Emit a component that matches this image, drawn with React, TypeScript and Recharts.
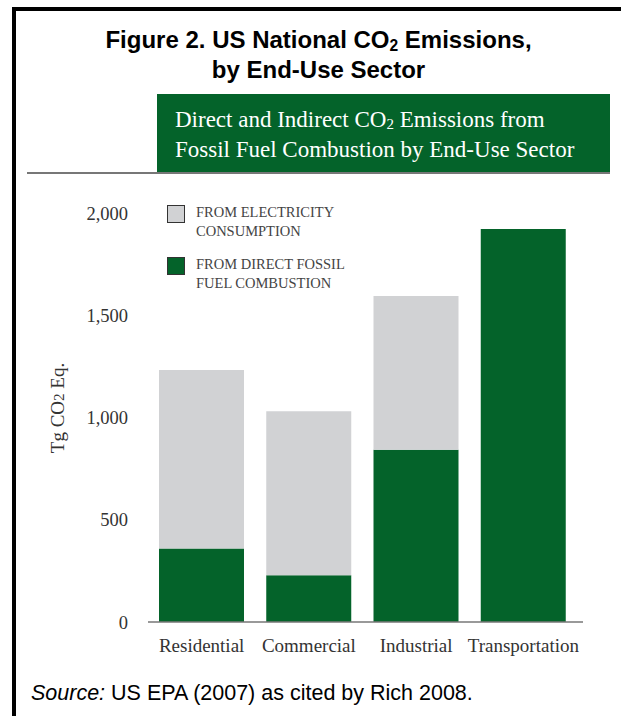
import { BarChart, Bar, XAxis, YAxis } from 'recharts'

const sectors = ['Residential', 'Commercial', 'Industrial', 'Transportation']
const directFossil = [360, 228, 842, 1922]
const fromElectricity = [872, 803, 752, 0]
const yTicks = [0, 500, 1000, 1500, 2000]
const legendItems = [
  { key: 'electricity', lines: ['FROM ELECTRICITY', 'CONSUMPTION'] },
  { key: 'direct', lines: ['FROM DIRECT FOSSIL', 'FUEL COMBUSTION'] },
]

const GREEN = '#04632a'
const GRAY = '#d1d2d4'
const SERIF = '"Liberation Serif", "DejaVu Serif", serif'
const SANS = '"Liberation Sans", Arial, sans-serif'
const colorOf: Record<string, string> = { direct: GREEN, electricity: GRAY }

const data = sectors.map((name, i) => ({
  name,
  direct: directFossil[i],
  electricity: fromElectricity[i],
}))

function LegendBox() {
  return (
    <div style={{ position: 'absolute', left: 167, top: 204, fontFamily: SERIF }}>
      {legendItems.map((it) => (
        <div key={it.key} style={{ display: 'flex', alignItems: 'flex-start', marginBottom: 15 }}>
          <div
            style={{
              width: 16,
              height: 16,
              marginTop: 1,
              background: colorOf[it.key],
              border: '1.5px solid #333',
            }}
          />
          <div style={{ marginLeft: 11, fontSize: 14.5, lineHeight: '19px', color: '#444', marginTop: -1 }}>
            {it.lines.map((l) => (
              <div key={l}>{l}</div>
            ))}
          </div>
        </div>
      ))}
    </div>
  )
}

export default function App() {
  return (
    <div style={{ position: 'absolute', left: 0, top: 0, width: 621, height: 716, background: '#fff', overflow: 'hidden' }}>
      {/* frame */}
      <div style={{ position: 'absolute', left: 12, top: 7, right: 0, height: 4, background: '#000' }} />
      <div style={{ position: 'absolute', left: 12, top: 7, bottom: 0, width: 4, background: '#000' }} />

      <div
        style={{
          position: 'absolute',
          left: 16,
          right: 0,
          top: 25,
          textAlign: 'center',
          fontFamily: SANS,
          fontWeight: 'bold',
          fontSize: 24,
          lineHeight: '30px',
          color: '#000',
        }}
      >
        <div>
          Figure 2. US National CO<span style={{ fontSize: '0.65em', verticalAlign: '-0.2em', lineHeight: 0 }}>2</span> Emissions,
        </div>
        <div>by End-Use Sector</div>
      </div>

      <div
        style={{
          position: 'absolute',
          left: 157,
          top: 94,
          width: 453,
          height: 78,
          background: GREEN,
          color: '#fff',
          fontFamily: SERIF,
          fontSize: 23,
          lineHeight: '30px',
          padding: '11px 0 0 18px',
          boxSizing: 'border-box',
        }}
      >
        <div>
          Direct and Indirect CO<span style={{ fontSize: '0.65em', verticalAlign: '-0.15em', lineHeight: 0 }}>2</span> Emissions from
        </div>
        <div>Fossil Fuel Combustion by End-Use Sector</div>
      </div>
      <div style={{ position: 'absolute', left: 27, top: 172, width: 583, height: 2, background: '#777' }} />

      <div style={{ position: 'absolute', left: 0, top: 0 }}>
        <BarChart
          width={621}
          height={716}
          data={data}
          margin={{ top: 213, right: 38, bottom: 64, left: 0 }}
          barCategoryGap={11}
        >
          <XAxis
            dataKey="name"
            height={30}
            interval={0}
            padding={{ left: 0, right: 6 }}
            tickLine={false}
            tickSize={0}
            tickMargin={17}
            axisLine={{ stroke: '#777', strokeWidth: 1.5 }}
            tick={{ fontFamily: SERIF, fontSize: 19, fill: '#333' }}
          />
          <YAxis
            width={148}
            domain={[0, 2000]}
            ticks={yTicks}
            tickFormatter={(v: number) => v.toLocaleString('en-US')}
            axisLine={false}
            tickLine={false}
            tickSize={0}
            tickMargin={20}
            tick={{ fontFamily: SERIF, fontSize: 18.5, fill: '#333' }}
          />
          <Bar dataKey="direct" stackId="a" fill={GREEN} isAnimationActive={false} />
          <Bar dataKey="electricity" stackId="a" fill={GRAY} isAnimationActive={false} />
        </BarChart>
      </div>

      {/* y-axis title */}
      <div
        style={{
          position: 'absolute',
          left: 58,
          top: 408,
          transform: 'translate(-50%, -50%) rotate(-90deg)',
          whiteSpace: 'nowrap',
          fontFamily: SERIF,
          fontSize: 19,
          color: '#333',
        }}
      >
        Tg CO<span style={{ fontSize: '0.8em' }}>2</span> Eq.
      </div>

      <LegendBox />

      <div style={{ position: 'absolute', left: 31, top: 680, fontFamily: SANS, fontSize: 21.5, lineHeight: '26px', color: '#000' }}>
        <i>Source:</i> US EPA (2007) as cited by Rich 2008.
      </div>
    </div>
  )
}
